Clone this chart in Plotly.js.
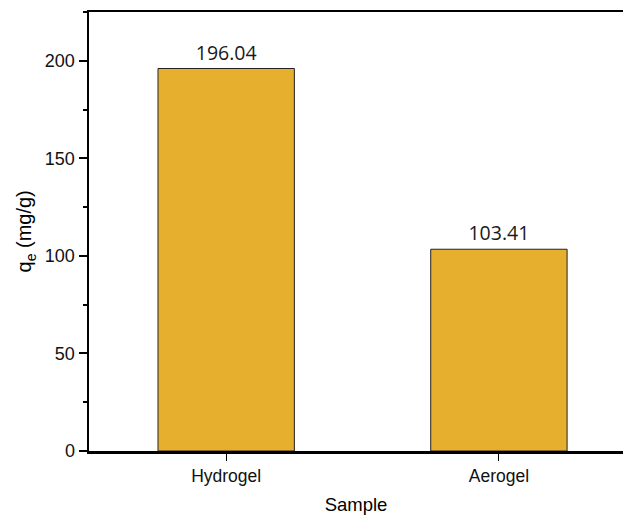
<!DOCTYPE html>
<html>
<head>
<meta charset="utf-8">
<script src="https://cdn.plot.ly/plotly-3.0.1.min.js"></script>
<style>html,body{margin:0;padding:0;background:#fff;}#chart{width:623px;height:520px;}</style>
</head>
<body>
<div id="chart"></div>
<script>
var categories = ["Hydrogel", "Aerogel"];
var qeValues = [196.04, 103.41];
var valueLabels = ["196.04", "103.41"];
var yTickVals = [0, 50, 100, 150, 200];
var yTickText = ["0", "50", "100", "150", "200"];
var yTitle = "q<sub>e</sub> (mg/g)";
var xTitle = "Sample";

var trace = {
  type: "bar",
  x: [0, 1],
  y: qeValues,
  width: 0.5,
  text: valueLabels,
  textposition: "outside",
  cliponaxis: false,
  textfont: {family: "Open Sans, sans-serif", size: 19.5, color: "#1a1a1a"},
  marker: {color: "#E6B02E", line: {color: "#222222", width: 1}},
  hoverinfo: "skip"
};

var layout = {
  width: 623,
  height: 520,
  margin: {l: 89, r: 0, t: 12, b: 69},
  paper_bgcolor: "#ffffff",
  plot_bgcolor: "#ffffff",
  showlegend: false,
  font: {family: "Liberation Sans, Arial, sans-serif", color: "#000"},
  xaxis: {
    range: [-0.503, 1.455],
    tickvals: [0, 1],
    ticktext: categories,
    ticks: "outside",
    ticklen: 7,
    tickwidth: 1,
    tickcolor: "#000",
    tickfont: {size: 17.5, color: "#111"},
    showline: true,
    linecolor: "#000",
    linewidth: 2.5,
    mirror: true,
    showgrid: false,
    zeroline: false,
    title: {text: xTitle, font: {size: 18.5, color: "#000"}, standoff: 14}
  },
  yaxis: {
    range: [0, 225],
    tickvals: yTickVals,
    ticktext: yTickText,
    ticks: "outside",
    ticklen: 8,
    tickwidth: 2,
    tickcolor: "#000",
    tickfont: {size: 18, color: "#111"},
    minor: {dtick: 25, tick0: 0, ticks: "outside", ticklen: 4, tickwidth: 2, tickcolor: "#000", showgrid: false},
    showline: true,
    linecolor: "#000",
    linewidth: 2.5,
    showgrid: false,
    zeroline: false
  },
  annotations: [{
    text: yTitle,
    xref: "paper", yref: "paper",
    x: -0.118, y: 0.5,
    xanchor: "center", yanchor: "middle",
    textangle: -90,
    showarrow: false,
    font: {size: 20, color: "#000"}
  }]
};

Plotly.newPlot("chart", [trace], layout, {displayModeBar: false, staticPlot: true});
</script>
</body>
</html>
